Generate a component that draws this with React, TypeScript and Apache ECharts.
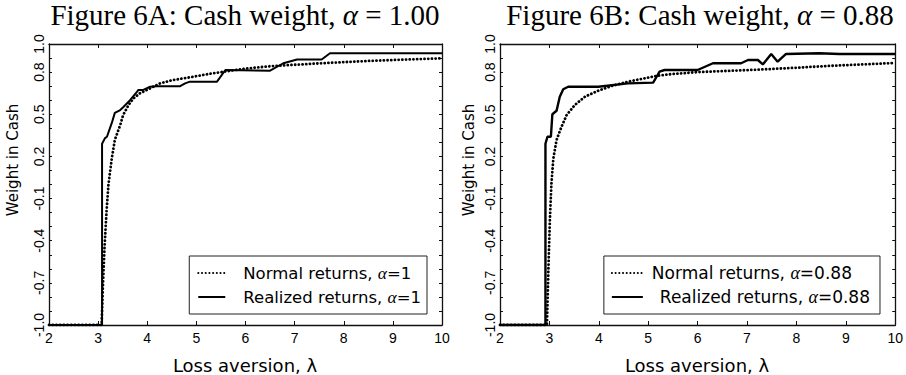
import React, { useEffect, useRef } from 'react';
import * as echarts from 'echarts';

// ---- data ----
const xTicks = [2, 3, 4, 5, 6, 7, 8, 9, 10];
const yTickLabels = ['-1.0', '-0.7', '-0.4', '-0.1', '0.2', '0.5', '0.8', '1.0'];

const titleA = 'Figure 6A: Cash weight, ';
const titleAVal = ' = 1.00';
const titleB = 'Figure 6B: Cash weight, ';
const titleBVal = ' = 0.88';

const nameNormalA = 'Normal returns, α=1';
const nameRealizedA = 'Realized returns, α=1';
const nameNormalB = 'Normal returns, α=0.88';
const nameRealizedB = 'Realized returns, α=0.88';

const normalA: [number, number][] = [
  [2, -1], [3.07, -1], [3.1, -0.7], [3.13, -0.45], [3.17, -0.2], [3.21, 0.0], [3.25, 0.11],
  [3.28, 0.19], [3.34, 0.317], [3.45, 0.423], [3.51, 0.495], [3.62, 0.566], [3.72, 0.613],
  [3.85, 0.649], [4.06, 0.685], [4.26, 0.72], [4.53, 0.744], [4.87, 0.763], [5.24, 0.786],
  [5.5, 0.8], [6.0, 0.825], [6.5, 0.842], [7.0, 0.852], [7.5, 0.862], [8.0, 0.871],
  [8.5, 0.879], [9.0, 0.886], [9.5, 0.892], [10, 0.898],
];

const realizedA: [number, number][] = [
  [2, -1], [3.08, -1], [3.08, 0.29], [3.14, 0.33], [3.18, 0.34], [3.28, 0.44], [3.34, 0.51],
  [3.45, 0.53], [3.51, 0.55], [3.65, 0.6], [3.79, 0.66], [3.82, 0.673], [3.92, 0.673],
  [4.06, 0.696], [4.19, 0.7], [4.67, 0.7], [4.77, 0.72], [4.87, 0.732], [5.42, 0.732],
  [5.59, 0.815], [6.5, 0.81], [6.77, 0.863], [7.05, 0.89], [7.55, 0.89], [7.72, 0.934],
  [10, 0.934],
];

const normalB: [number, number][] = [
  [2, -1], [2.95, -1], [2.98, -0.6], [3.01, -0.25], [3.04, 0.0], [3.08, 0.186], [3.145, 0.317],
  [3.245, 0.411], [3.35, 0.495], [3.515, 0.566], [3.72, 0.625], [3.99, 0.668], [4.26, 0.701],
  [4.59, 0.732], [4.93, 0.756], [5.2, 0.775], [5.5, 0.787], [6.0, 0.8], [6.5, 0.807],
  [7.2, 0.817], [8.0, 0.831], [8.6, 0.843], [9.3, 0.854], [10, 0.865],
];

const realizedB: [number, number][] = [
  [2, -1], [2.92, -1], [2.92, 0.29], [2.96, 0.34], [3.03, 0.34], [3.06, 0.5], [3.145, 0.525],
  [3.21, 0.625], [3.28, 0.678], [3.38, 0.696], [3.99, 0.696], [4.59, 0.72], [5.1, 0.725],
  [5.17, 0.767], [5.23, 0.803], [5.33, 0.815], [6.0, 0.815], [6.31, 0.863], [6.88, 0.863],
  [7.02, 0.886], [7.22, 0.886], [7.32, 0.855], [7.49, 0.929], [7.62, 0.874], [7.79, 0.929],
  [8.46, 0.934], [8.87, 0.929], [10, 0.929],
];

const SANS = '"Liberation Sans", Arial, sans-serif';
const WIDE = '"DejaVu Sans", Verdana, sans-serif';
const SERIF = '"Liberation Serif", "Times New Roman", serif';

export default function App() {
  const ref = useRef<HTMLDivElement>(null);

  useEffect(() => {
    if (!ref.current) return;
    const chart = echarts.init(ref.current, undefined, { renderer: 'svg' });

    const grids = [
      { left: 49, right: 464, top: 44, bottom: 50 },
      { left: 500, right: 10, top: 44, bottom: 50 },
    ];

    const frameLine = { show: true, onZero: false, lineStyle: { color: '#111', width: 1.3 } };
    const xAxes: any[] = [];
    const yAxes: any[] = [];
    grids.forEach((_, gi) => {
      xAxes.push({
        type: 'value', gridIndex: gi, position: 'bottom', min: xTicks[0], max: xTicks[xTicks.length - 1], interval: 1,
        axisLine: frameLine,
        axisTick: { show: true, inside: true, length: 4, lineStyle: { color: '#111' } },
        axisLabel: { show: true, margin: 6, color: '#000', fontSize: 14, fontFamily: SANS,
          formatter: (v: number) => (xTicks.includes(Math.round(v)) ? String(Math.round(v)) : '') },
        splitLine: { show: false },
      });
      xAxes.push({
        type: 'value', gridIndex: gi, position: 'top', min: xTicks[0], max: xTicks[xTicks.length - 1], interval: 1,
        axisLine: frameLine,
        axisTick: { show: true, inside: true, length: 4, lineStyle: { color: '#111' } },
        axisLabel: { show: false },
        splitLine: { show: false },
      });
      yAxes.push({
        type: 'value', gridIndex: gi, position: 'left', min: -1, max: 1, interval: 0.1,
        axisLine: frameLine,
        axisTick: { show: true, inside: true, length: 3, lineStyle: { color: '#111' } },
        axisLabel: { show: true, rotate: 90, margin: 3, color: '#000', fontSize: 14, fontFamily: SANS,
          formatter: (v: number) => {
            const s = v.toFixed(1);
            return yTickLabels.includes(s) ? s : '';
          } },
        splitLine: { show: false },
      });
      yAxes.push({
        type: 'value', gridIndex: gi, position: 'right', min: -1, max: 1, interval: 0.1,
        axisLine: frameLine,
        axisTick: { show: true, inside: true, length: 3, lineStyle: { color: '#111' } },
        axisLabel: { show: false },
        splitLine: { show: false },
      });
    });

    const dotted = { color: '#000', width: 2.8, type: [0.1, 3.6], cap: 'round' };
    const solid = { color: '#000', width: 2, type: 'solid' };

    const mkSeries = (name: string, data: [number, number][], gi: number, ls: any, z: number) => ({
      name, type: 'line', data, xAxisIndex: gi * 2, yAxisIndex: gi * 2, symbol: 'none',
      showSymbol: false, lineStyle: ls, itemStyle: { color: '#000' }, z, silent: true,
    });

    const legendFmt = (name: string) => {
      const parts = name.split('α');
      const key = name.startsWith('Realized') ? 'pR' : 'p';
      return `{${key}|${parts[0]}}{i|α}{t|${parts[1]}}`;
    };

    const legendText = (size: number, padFirst: number, padSecond: number) => ({
      fontFamily: WIDE, fontSize: size, color: '#000',
      rich: {
        p: { fontFamily: WIDE, fontSize: size, color: '#000', padding: [0, 0, 0, padFirst] },
        pR: { fontFamily: WIDE, fontSize: size, color: '#000', padding: [0, 0, 0, padSecond] },
        t: { fontFamily: WIDE, fontSize: size, color: '#000' },
        i: { fontFamily: SERIF, fontStyle: 'italic', fontSize: size + 1, color: '#000' },
      },
    });

    const hiddenSymbol = { color: 'rgba(0,0,0,0)', borderWidth: 0, opacity: 0 };

    const titleRich = {
      n: { fontFamily: SERIF, fontSize: 29, fill: '#000' },
      i: { fontFamily: SERIF, fontStyle: 'italic', fontSize: 29, fill: '#000' },
    };

    const option: any = {
      animation: false,
      backgroundColor: '#fff',
      grid: grids.map((g) => ({ ...g, show: false, containLabel: false })),
      xAxis: xAxes,
      yAxis: yAxes,
      legend: [
        {
          data: [nameNormalA, nameRealizedA],
          orient: 'vertical', right: 479, top: 256,
          borderColor: '#222', borderWidth: 1, padding: [8, 6, 8, 8], backgroundColor: '#fff',
          itemWidth: 27, itemHeight: 14, itemGap: 6, selectedMode: false,
          itemStyle: hiddenSymbol,
          formatter: legendFmt, textStyle: legendText(16.5, 13, 13),
        },
        {
          data: [nameNormalB, nameRealizedB],
          orient: 'vertical', right: 26, top: 256,
          borderColor: '#222', borderWidth: 1, padding: [8, 10, 8, 7], backgroundColor: '#fff',
          itemWidth: 31, itemHeight: 14, itemGap: 6, selectedMode: false,
          itemStyle: hiddenSymbol,
          formatter: legendFmt, textStyle: legendText(17, 4, 12),
        },
      ],
      series: [
        mkSeries(nameNormalA, normalA, 0, dotted, 2),
        mkSeries(nameRealizedA, realizedA, 0, solid, 3),
        mkSeries(nameNormalB, normalB, 1, dotted, 2),
        mkSeries(nameRealizedB, realizedB, 1, { ...solid, width: 2.4 }, 3),
      ],
      graphic: [
        { type: 'text', x: 245, y: 15, style: { text: `{n|${titleA}}{i|α}{n|${titleAVal}}`, rich: titleRich, align: 'center', verticalAlign: 'middle' } },
        { type: 'text', x: 700, y: 15, style: { text: `{n|${titleB}}{i|α}{n|${titleBVal}}`, rich: titleRich, align: 'center', verticalAlign: 'middle' } },
        { type: 'text', x: 13, y: 160, rotation: Math.PI / 2, style: { text: 'Weight in Cash', fontFamily: WIDE, fontSize: 15, fill: '#000', align: 'center', verticalAlign: 'middle' } },
        { type: 'text', x: 469, y: 160, rotation: Math.PI / 2, style: { text: 'Weight in Cash', fontFamily: WIDE, fontSize: 15, fill: '#000', align: 'center', verticalAlign: 'middle' } },
        { type: 'text', x: 245, y: 365, style: { text: 'Loss aversion, λ', fontFamily: WIDE, fontSize: 18, fill: '#000', align: 'center', verticalAlign: 'middle' } },
        { type: 'text', x: 697, y: 365, style: { text: 'Loss aversion, λ', fontFamily: WIDE, fontSize: 18, fill: '#000', align: 'center', verticalAlign: 'middle' } },
      ],
    };

    chart.setOption(option);
    return () => chart.dispose();
  }, []);

  return (
    <div
      ref={ref}
      style={{ position: 'fixed', left: 0, top: 0, width: 906, height: 375, background: '#fff' }}
    />
  );
}
